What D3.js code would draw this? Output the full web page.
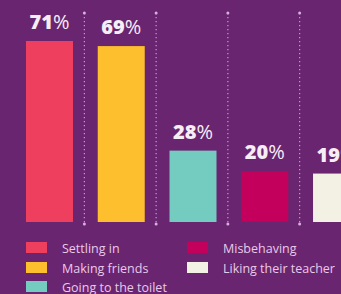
<!DOCTYPE html>
<html><head><meta charset="utf-8">
<script src="https://cdn.jsdelivr.net/npm/d3@7"></script>
<style>html,body{margin:0;padding:0;background:#6a2570;overflow:hidden}</style>
</head><body>
<script>
const categories = ["Settling in","Making friends","Going to the toilet","Misbehaving","Liking their teacher"];
const values = [71, 69, 28, 20, 19];
const colors = ["#ef3f5f","#fdbf2e","#74cbc0","#c3005b","#f3f0e4"];
const legendOrder = [0,1,2,3,4];

const W = 341, H = 294;
const svg = d3.select("body").append("svg").attr("width", W).attr("height", H);
svg.append("rect").attr("width", W).attr("height", H).attr("fill", "#6a2570");

const x = d3.scaleBand().domain(categories).range([13.6, 372.4]).paddingInner(0.345).paddingOuter(0.1725);
const y = d3.scaleLinear().domain([0, 71]).range([222, 41]);

// separators
const sepG = svg.append("g");
categories.slice(0, -1).forEach((c, i) => {
  const sx = x(c) + x.bandwidth() + (x.step() - x.bandwidth()) / 2 - 1;
  sepG.append("line").attr("x1", sx).attr("x2", sx).attr("y1", 13).attr("y2", 224)
    .attr("stroke", "#c99ad6").attr("stroke-width", 1.2).attr("stroke-dasharray", "1.2,2.8");
  sepG.append("circle").attr("cx", sx).attr("cy", 13).attr("r", 1.5).attr("fill", "#d8b0e0");
  sepG.append("circle").attr("cx", sx).attr("cy", 224).attr("r", 1.5).attr("fill", "#d8b0e0");
});

// bars
svg.append("g").selectAll("rect").data(values).join("rect")
  .attr("x", (d, i) => x(categories[i]))
  .attr("width", x.bandwidth())
  .attr("y", d => y(d))
  .attr("height", d => y(0) - y(d))
  .attr("fill", (d, i) => colors[i]);

// labels
const lab = svg.append("g").selectAll("text").data(values).join("text")
  .attr("x", (d, i) => x(categories[i]) + x.bandwidth() / 2)
  .attr("y", d => y(d) - 12)
  .attr("text-anchor", "middle")
  .attr("font-family", "Open Sans, sans-serif")
  .attr("font-size", 20)
  .attr("fill", "#f6eef6");
lab.append("tspan").attr("font-weight", 800).text(d => d);
lab.append("tspan").attr("font-weight", 400).text("%");

// legend
const legPos = [[26, 242], [26, 262], [26, 281], [187, 242], [187, 262]];
const leg = svg.append("g");
legendOrder.forEach((k, j) => {
  const [lx, ly] = legPos[j];
  leg.append("rect").attr("x", lx).attr("y", ly).attr("width", 21).attr("height", 11).attr("fill", colors[k]);
  leg.append("text").attr("x", lx + 36).attr("y", ly + 11)
    .attr("font-family", "Open Sans, sans-serif").attr("font-size", 12.5)
    .attr("fill", "#e9c9ea").text(categories[k]);
});
</script>
</body></html>
